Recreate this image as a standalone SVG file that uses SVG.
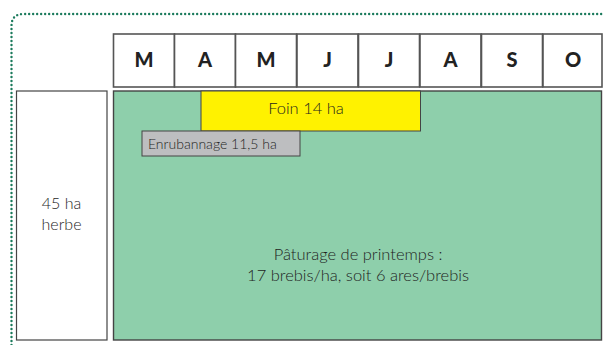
<svg xmlns="http://www.w3.org/2000/svg" width="603" height="345" viewBox="0 0 603 345">
<style>
.mon{fill:#fff;stroke:#555;stroke-width:1.6}
.ml{font-family:Lato,"Liberation Sans",sans-serif;font-weight:900;font-size:20px;fill:#222;text-anchor:middle}
.t{font-family:Lato,"Open Sans",sans-serif;font-weight:300;fill:#1e1e1e}
</style>
<rect width="603" height="345" fill="#fff"/>
<path d="M11.5,345 V26 Q11.5,14 23.5,14 H610" fill="none" stroke="#1b7a5c" stroke-width="2.4" stroke-linecap="round" stroke-dasharray="0 4"/>
<g id="months">
<rect class="mon" x="113.5" y="34" width="61" height="53"/><text class="ml" x="144" y="67">M</text>
<rect class="mon" x="174.5" y="34" width="61" height="53"/><text class="ml" x="205" y="67">A</text>
<rect class="mon" x="235.5" y="34" width="61" height="53"/><text class="ml" x="266" y="67">M</text>
<rect class="mon" x="297" y="34" width="61" height="53"/><text class="ml" x="327.5" y="67">J</text>
<rect class="mon" x="358.5" y="34" width="61" height="53"/><text class="ml" x="389" y="67">J</text>
<rect class="mon" x="420" y="34" width="61" height="53"/><text class="ml" x="450.5" y="67">A</text>
<rect class="mon" x="481.5" y="34" width="61" height="53"/><text class="ml" x="512" y="67">S</text>
<rect class="mon" x="543" y="34" width="59" height="53"/><text class="ml" x="573" y="67">O</text>
</g>
<g id="herbe">
<rect x="16.5" y="91" width="90.5" height="249" fill="#fff" stroke="#444" stroke-width="1.2"/>
<text class="t" x="61.5" y="209" font-size="16" text-anchor="middle">45 ha</text>
<text class="t" x="61.5" y="230" font-size="16" text-anchor="middle">herbe</text>
</g>
<g id="paturage">
<rect x="113.5" y="91" width="488" height="249" fill="#8ecfab" stroke="#444" stroke-width="1.4"/>
<text class="t" x="358" y="260" font-size="16.5" text-anchor="middle">Pâturage de printemps :</text>
<text class="t" x="358" y="281" font-size="16.5" text-anchor="middle">17 brebis/ha, soit 6 ares/brebis</text>
</g>
<g id="foin">
<rect x="201" y="91" width="219.5" height="40" fill="#fff200" stroke="#444" stroke-width="1"/>
<text class="t" x="306" y="114" font-size="16.5" text-anchor="middle">Foin 14 ha</text>
</g>
<g id="enrubannage">
<rect x="142" y="131" width="158" height="25" fill="#bdbec0" stroke="#444" stroke-width="1"/>
<text class="t" x="148" y="149" font-size="14">Enrubannage 11,5 ha</text>
</g>
</svg>
